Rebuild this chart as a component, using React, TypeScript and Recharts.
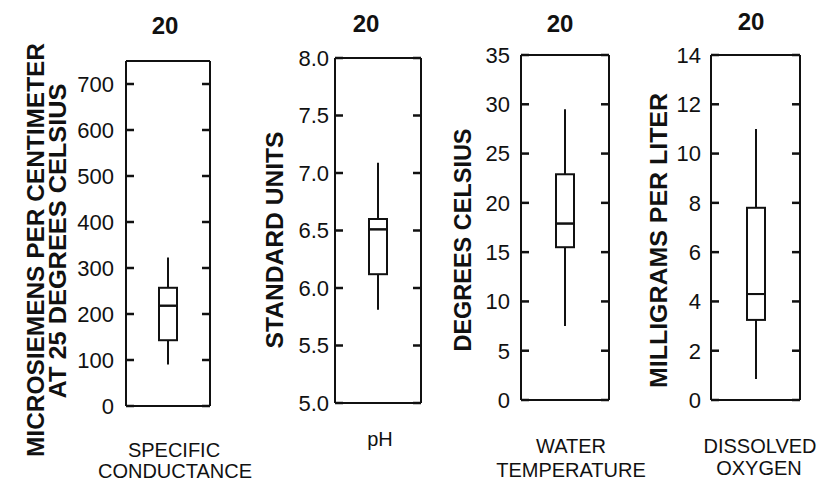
import React from "react";
import { ComposedChart, Bar, XAxis, YAxis, Label } from "recharts";

// ---------- data ----------
const CATEGORIES: string[][] = [
  ["SPECIFIC", "CONDUCTANCE"],
  ["pH"],
  ["WATER", "TEMPERATURE"],
  ["DISSOLVED", "OXYGEN"],
];
const COUNTS = [20, 20, 20, 20];
const MINS = [90, 5.81, 7.5, 0.85];
const Q1S = [143, 6.12, 15.5, 3.25];
const MEDIANS = [218, 6.51, 17.9, 4.3];
const Q3S = [257, 6.6, 22.9, 7.8];
const MAXES = [323, 7.09, 29.5, 11.0];
const Y_LABELS: string[][] = [
  ["MICROSIEMENS PER CENTIMETER", "AT 25 DEGREES CELSIUS"],
  ["STANDARD UNITS"],
  ["DEGREES CELSIUS"],
  ["MILLIGRAMS PER LITER"],
];
const Y_DOMAINS: [number, number][] = [
  [0, 750],
  [5, 8],
  [0, 35],
  [0, 14],
];
const Y_TICKS: number[][] = [
  [0, 100, 200, 300, 400, 500, 600, 700],
  [5, 5.5, 6, 6.5, 7, 7.5, 8],
  [0, 5, 10, 15, 20, 25, 30, 35],
  [0, 2, 4, 6, 8, 10, 12, 14],
];
const Y_DECIMALS = [0, 1, 0, 0];

// ---------- layout (positions / styles) ----------
const H = 485;
const FONT = "'Liberation Sans', Arial, Helvetica, sans-serif";
const INK = "#111";
const TICK_LEN = 8;
const LAYOUT = [
  {
    left: 0, width: 260, plotLeft: 126, plotRight: 210, plotTop: 61, plotBottom: 406,
    labelGap: 12, countX: 165, countBase: 34,
    ylab: [{ cx: 36, cy: 250, len: 414 }, { cx: 57.5, cy: 241, len: 315 }],
    cat: [{ cx: 174, base: 457 }, { cx: 175, base: 478 }],
  },
  {
    left: 230, width: 200, plotLeft: 335, plotRight: 421, plotTop: 58, plotBottom: 403,
    labelGap: 6, countX: 366, countBase: 32,
    ylab: [{ cx: 275, cy: 240, len: 217 }],
    cat: [{ cx: 380, base: 446 }],
  },
  {
    left: 420, width: 235, plotLeft: 521, plotRight: 609, plotTop: 55, plotBottom: 400,
    labelGap: 11, countX: 560, countBase: 32,
    ylab: [{ cx: 463, cy: 240, len: 223 }],
    cat: [{ cx: 571, base: 453 }, { cx: 571, base: 477 }],
  },
  {
    left: 630, width: 189, plotLeft: 711, plotRight: 800, plotTop: 55, plotBottom: 400,
    labelGap: 10, countX: 751, countBase: 30,
    ylab: [{ cx: 659, cy: 240.5, len: 295 }],
    cat: [{ cx: 760, base: 453 }, { cx: 759, base: 475 }],
  },
];

const rows = CATEGORIES.map((c, i) => ({
  name: c.join(" "),
  n: COUNTS[i],
  base: MINS[i],
  lowWhisker: Q1S[i] - MINS[i],
  lowBox: MEDIANS[i] - Q1S[i],
  highBox: Q3S[i] - MEDIANS[i],
  highWhisker: MAXES[i] - Q3S[i],
}));

const EmptyShape = () => <g />;

const WhiskerShape = (props: any) => {
  const { x, y, width, height } = props;
  const top = Math.min(y, y + height);
  const h = Math.abs(height);
  const cx = x + width / 2;
  return <line x1={cx} x2={cx} y1={top} y2={top + h} stroke={INK} strokeWidth={2} />;
};

const BoxShape = (props: any) => {
  const { x, y, width, height } = props;
  const top = Math.min(y, y + height);
  const h = Math.abs(height);
  return <rect x={x} y={top} width={width} height={h} fill="none" stroke={INK} strokeWidth={2} />;
};

function LeftTick(props: any) {
  const { y, payload, edge, gap, dec } = props;
  return (
    <g>
      <line x1={edge} x2={edge + TICK_LEN} y1={y} y2={y} stroke={INK} strokeWidth={2.5} />
      <text x={edge - gap} y={y} dy="0.36em" textAnchor="end" fontFamily={FONT} fontSize={22} fill={INK}>
        {Number(payload.value).toFixed(dec)}
      </text>
    </g>
  );
}

function RightTick(props: any) {
  const { y, edge } = props;
  return <line x1={edge - TICK_LEN} x2={edge} y1={y} y2={y} stroke={INK} strokeWidth={2.5} />;
}

function CategoryTick(props: any) {
  const { idx } = props;
  const lay = LAYOUT[idx];
  return (
    <g>
      {CATEGORIES[idx].map((line, k) => (
        <text
          key={k}
          x={lay.cat[k].cx - lay.left}
          y={lay.cat[k].base}
          textAnchor="middle"
          fontFamily={FONT}
          fontSize={20}
          fill={INK}
        >
          {line}
        </text>
      ))}
    </g>
  );
}

function CountTick(props: any) {
  const { idx, payload } = props;
  const lay = LAYOUT[idx];
  return (
    <text
      x={lay.countX - lay.left}
      y={lay.countBase}
      textAnchor="middle"
      fontFamily={FONT}
      fontSize={24}
      fontWeight="bold"
      fill={INK}
    >
      {payload ? payload.value : COUNTS[idx]}
    </text>
  );
}

function YLabelContent(props: any) {
  const { idx } = props;
  const lay = LAYOUT[idx];
  return (
    <g>
      {Y_LABELS[idx].map((line, k) => {
        const p = lay.ylab[k];
        const cx = p.cx - lay.left;
        return (
          <text
            key={k}
            x={cx}
            y={p.cy}
            transform={`rotate(-90 ${cx} ${p.cy})`}
            textAnchor="middle"
            dy="0.36em"
            fontFamily={FONT}
            fontSize={23}
            fontWeight="bold"
            fill={INK}
            textLength={p.len}
            lengthAdjust="spacingAndGlyphs"
          >
            {line}
          </text>
        );
      })}
    </g>
  );
}

function Panel({ idx }: { idx: number }) {
  const lay = LAYOUT[idx];
  const leftW = lay.plotLeft - lay.left;
  const rightW = 1;
  const marginRight = lay.left + lay.width - lay.plotRight - rightW;
  const pl = lay.plotLeft - lay.left;
  const pr = lay.plotRight - lay.left;

  return (
    <div style={{ position: "absolute", left: lay.left, top: 0 }}>
      <ComposedChart
        width={lay.width}
        height={H}
        data={[rows[idx]]}
        margin={{ top: 0, right: marginRight, bottom: 0, left: 0 }}
      >
        <XAxis
          xAxisId="cat"
          dataKey="name"
          orientation="bottom"
          height={H - lay.plotBottom}
          axisLine={{ stroke: INK, strokeWidth: 2 }}
          tickLine={false}
          tick={<CategoryTick idx={idx} />}
          interval={0}
        />
        <XAxis
          xAxisId="n"
          dataKey="n"
          orientation="top"
          height={lay.plotTop}
          axisLine={{ stroke: INK, strokeWidth: 2 }}
          tickLine={false}
          tick={<CountTick idx={idx} />}
          interval={0}
        />
        <YAxis
          yAxisId="v"
          orientation="left"
          type="number"
          width={leftW}
          domain={Y_DOMAINS[idx]}
          ticks={Y_TICKS[idx]}
          allowDataOverflow
          interval={0}
          tickLine={false}
          tick={<LeftTick edge={pl} gap={lay.labelGap} dec={Y_DECIMALS[idx]} />}
          axisLine={{ stroke: INK, strokeWidth: 2 }}
        >
          <Label content={<YLabelContent idx={idx} />} />
        </YAxis>
        <YAxis
          yAxisId="r"
          orientation="right"
          type="number"
          width={rightW}
          domain={Y_DOMAINS[idx]}
          ticks={Y_TICKS[idx]}
          allowDataOverflow
          interval={0}
          tickLine={false}
          tick={<RightTick edge={pr} />}
          axisLine={{ stroke: INK, strokeWidth: 2 }}
        />
        <Bar xAxisId="cat" yAxisId="v" stackId="box" dataKey="base" barSize={18} shape={<EmptyShape />} isAnimationActive={false} />
        <Bar xAxisId="cat" yAxisId="v" stackId="box" dataKey="lowWhisker" barSize={18} shape={<WhiskerShape />} isAnimationActive={false} />
        <Bar xAxisId="cat" yAxisId="v" stackId="box" dataKey="lowBox" barSize={18} shape={<BoxShape />} isAnimationActive={false} />
        <Bar xAxisId="cat" yAxisId="v" stackId="box" dataKey="highBox" barSize={18} shape={<BoxShape />} isAnimationActive={false} />
        <Bar xAxisId="cat" yAxisId="v" stackId="box" dataKey="highWhisker" barSize={18} shape={<WhiskerShape />} isAnimationActive={false} />
      </ComposedChart>
    </div>
  );
}

export default function App() {
  return (
    <div
      style={{
        position: "absolute",
        left: 0,
        top: 0,
        width: 819,
        height: H,
        background: "#fff",
        overflow: "hidden",
      }}
    >
      {CATEGORIES.map((_, i) => (
        <Panel key={i} idx={i} />
      ))}
    </div>
  );
}
